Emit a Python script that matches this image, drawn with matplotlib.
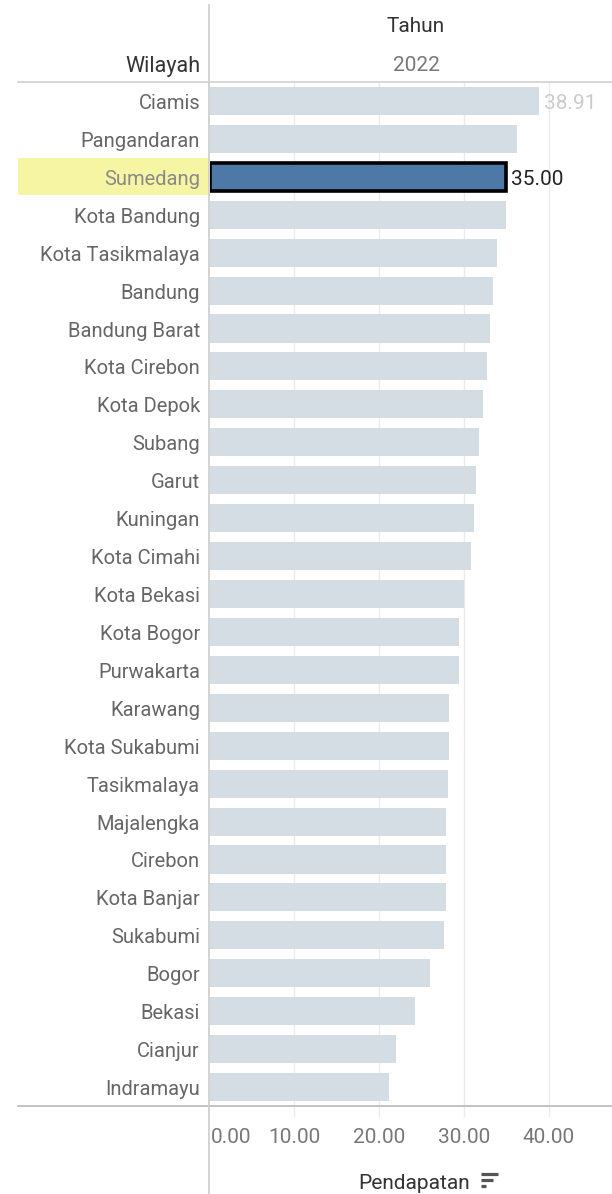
import matplotlib
matplotlib.use("Agg")
import matplotlib.pyplot as plt
from matplotlib.lines import Line2D
from matplotlib.patches import Rectangle

plt.rcParams['font.family'] = ['Roboto', 'DejaVu Sans']

wilayah = ["Ciamis", "Pangandaran", "Sumedang", "Kota Bandung", "Kota Tasikmalaya",
           "Bandung", "Bandung Barat", "Kota Cirebon", "Kota Depok", "Subang", "Garut",
           "Kuningan", "Kota Cimahi", "Kota Bekasi", "Kota Bogor", "Purwakarta",
           "Karawang", "Kota Sukabumi", "Tasikmalaya", "Majalengka", "Cirebon",
           "Kota Banjar", "Sukabumi", "Bogor", "Bekasi", "Cianjur", "Indramayu"]
pendapatan = [38.91, 36.3, 35.00, 35.0, 33.9, 33.5, 33.1, 32.7, 32.3, 31.8, 31.4,
              31.2, 30.8, 30.0, 29.45, 29.45, 28.3, 28.3, 28.1, 27.9, 27.9,
              27.9, 27.7, 26.0, 24.3, 22.0, 21.2]
highlight = "Sumedang"
ticks = [0, 10, 20, 30, 40]
tick_labels = ["0.00", "10.00", "20.00", "30.00", "40.00"]

W, H = 612, 1194
fig = plt.figure(figsize=(W / 100, H / 100), dpi=100)

def fx(px):
    return px / W

def fy(py):
    return 1 - py / H

ax_left, ax_right = 209.5, 612
ax_top, ax_bot = 82, 1106
ax = fig.add_axes([fx(ax_left), fy(ax_bot), fx(ax_right - ax_left), (ax_bot - ax_top) / H])
n = len(wilayah)
ypos = list(range(n))
colors = ["#4E79A7" if w == highlight else "#D5DDE4" for w in wilayah]
bars = ax.barh(ypos, pendapatan, height=0.74, color=colors, zorder=2)
for b, w in zip(bars, wilayah):
    if w == highlight:
        b.set_edgecolor("black")
        b.set_linewidth(2.6)
ax.set_ylim(n - 0.5, -0.5)
ax.set_xlim(0, 47.48)
for t in ticks[1:]:
    ax.axvline(t, color="#EBEBEB", lw=1, zorder=0)
ax.set_xticks([])
ax.set_yticks([])
for s in ax.spines.values():
    s.set_visible(False)

row_h = (ax_bot - ax_top) / n
dy = 2.5 / row_h  # small downward shift in data units

# value labels
for i, (w, v) in enumerate(zip(wilayah, pendapatan)):
    if i == 0:
        ax.text(v + 0.6, i + dy, f"{v:.2f}", va="center", ha="left", fontsize=15, color="#CCCCCC")
    elif w == highlight:
        ax.text(v + 0.6, i + dy, f"{v:.2f}", va="center", ha="left", fontsize=15, color="#222222")

# row labels and highlight band
for i, w in enumerate(wilayah):
    cy = ax_top + row_h * (i + 0.5)
    if w == highlight:
        fig.patches.append(Rectangle((fx(18), fy(cy + row_h / 2 - 0.5)), fx(209 - 18), (row_h - 1) / H,
                                     transform=fig.transFigure, facecolor="#F5F5A3", edgecolor="none", zorder=0))
    fig.text(fx(200), fy(cy + 2.5), w, ha="right", va="center", fontsize=14.5,
             color="#8A8A8A" if w == highlight else "#666666")

# header
fig.text(fx(416), fy(27), "Tahun", ha="center", va="center", fontsize=15, color="#333333")
fig.text(fx(416), fy(65.5), "2022", ha="center", va="center", fontsize=15, color="#777777")
fig.text(fx(200), fy(66.5), "Wilayah", ha="right", va="center", fontsize=15.5, color="#333333")

# structure lines
fig.add_artist(Line2D([fx(18), fx(612)], [fy(82), fy(82)], color="#D4D4D4", lw=1.3))
fig.add_artist(Line2D([fx(18), fx(612)], [fy(1106), fy(1106)], color="#BDBDBD", lw=1.3))
fig.add_artist(Line2D([fx(209.3), fx(209.3)], [fy(5), fy(1194)], color="#D0D0D0", lw=1.3))

# ticks and tick labels below axis
ax2 = fig.add_axes([fx(ax_left), fy(1194), fx(ax_right - ax_left), (1194 - 1106) / H])
ax2.set_xlim(ax.get_xlim())
ax2.set_ylim(88, 0)
ax2.axis("off")
for t, lab in zip(ticks, tick_labels):
    if t > 0:
        ax2.plot([t, t], [1, 10], color="#EBEBEB", lw=1)
    if t == 0:
        ax2.text(0.2, 31.5, lab, ha="left", va="center", fontsize=15, color="#777777")
    else:
        ax2.text(t, 31.5, lab, ha="center", va="center", fontsize=15, color="#777777")

fig.text(fx(470), fy(1183.5), "Pendapatan", ha="right", va="center", fontsize=15, color="#333333")
# sort icon
for k, (x0, x1) in enumerate([(481, 498), (481, 493), (481, 486)]):
    yy = 1174 + k * 6
    fig.add_artist(Line2D([fx(x0), fx(x1)], [fy(yy), fy(yy)], color="#555555", lw=2.3, solid_capstyle="butt"))

fig.savefig("out.png", dpi=100)
